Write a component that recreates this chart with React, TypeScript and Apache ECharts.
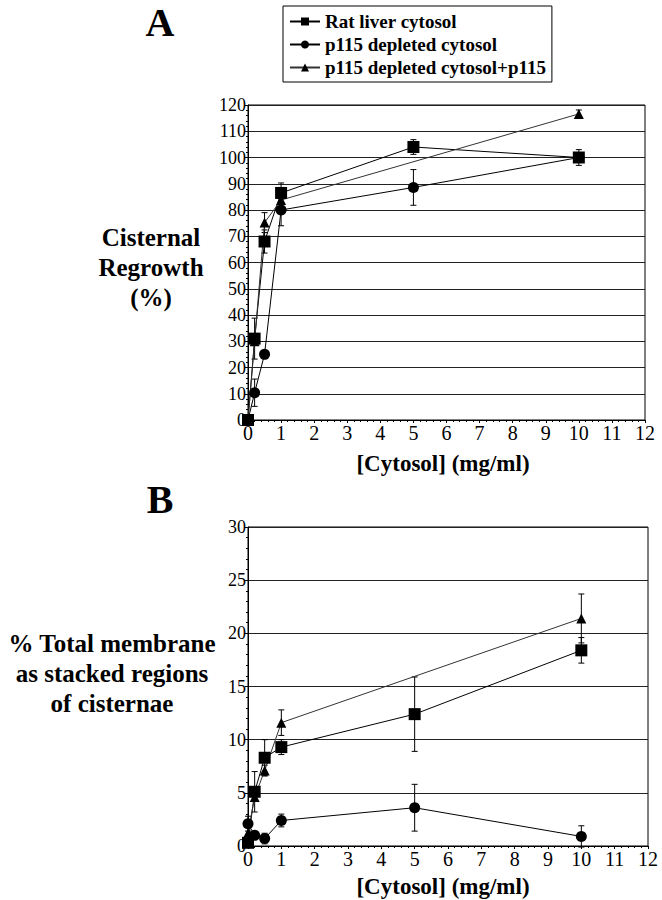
import React, { useEffect, useRef } from "react";
import * as echarts from "echarts";

// ---- Data ----
const seriesNames = ["Rat liver cytosol", "p115 depleted cytosol", "p115 depleted cytosol+p115"];
const xTicks = [0, 12];

// Panel A: Cisternal regrowth (%)
const concA = [0, 0.2, 0.5, 1, 5, 10];
const ratA = [0, 31, 68, 86.5, 104, 100];
const ratAErr = [0, 7.8, 4.4, 3.8, 2.8, 3];
const depA = [0, 10.4, 25, 80, 88.6, 100];
const depAErr = [0, 5.2, 0, 6, 6.8, 0];
const concA3 = [0, 0.2, 0.5, 1, 10];
const addA = [0, 30, 75.2, 83.8, 116.6];
const addAErr = [0, 0, 3.8, 0, 1.5];

// Panel B: % total membrane as stacked regions
const concB = [0, 0.2, 0.5, 1, 5, 10];
const ratB = [0.3, 5.1, 8.3, 9.3, 12.4, 18.4];
const ratBErr = [0, 1.9, 1.7, 0.7, 3.5, 1.2];
const depB = [2.1, 1.0, 0.7, 2.4, 3.6, 0.9];
const depBErr = [0.7, 0.3, 0.5, 0.6, 2.2, 1.0];
const concB3 = [0, 0.2, 0.5, 1, 10];
const addB = [1.2, 4.6, 7.1, 11.6, 21.4];
const addBErr = [0, 0, 0.5, 1.2, 2.3];

const SERIF = "'Liberation Serif', 'DejaVu Serif', serif";

const zip = (xs: number[], ys: number[]) => xs.map((x, i) => [x, ys[i]]);
const zip3 = (xs: number[], ys: number[], es: number[]) => xs.map((x, i) => [x, ys[i], es[i]]);

function errorBars(name: string, data: number[][], axis: number) {
  return {
    type: "custom",
    name,
    xAxisIndex: axis,
    yAxisIndex: axis,
    z: 1,
    silent: true,
    encode: { x: 0, y: 1 },
    data,
    renderItem: (params: any, api: any) => {
      const x = api.value(0);
      const y = api.value(1);
      const e = api.value(2);
      if (!e) return { type: "group", children: [] };
      const t = api.coord([x, y + e]);
      const b = api.coord([x, y - e]);
      const st = { stroke: "#000", lineWidth: 1 };
      return {
        type: "group",
        children: [
          { type: "line", shape: { x1: t[0], y1: t[1], x2: b[0], y2: b[1] }, style: st },
          { type: "line", shape: { x1: t[0] - 3, y1: t[1], x2: t[0] + 3, y2: t[1] }, style: st },
          { type: "line", shape: { x1: b[0] - 3, y1: b[1], x2: b[0] + 3, y2: b[1] }, style: st },
        ],
      };
    },
  };
}

function lineSeries(name: string, data: number[][], axis: number, symbol: string, size: number, color: string) {
  return {
    type: "line",
    name,
    xAxisIndex: axis,
    yAxisIndex: axis,
    data,
    z: 3,
    symbol,
    symbolSize: size,
    showAllSymbol: true,
    lineStyle: { color, width: 1 },
    itemStyle: { color: "#000" },
  };
}

function xAxis(gridIndex: number) {
  return {
    type: "value",
    gridIndex,
    min: xTicks[0],
    max: xTicks[1],
    interval: 1,
    axisLine: { show: true, lineStyle: { color: "#000", width: 1 } },
    axisTick: { show: true, length: 3, lineStyle: { color: "#000" } },
    minorTick: { show: true, splitNumber: 5, length: 2, lineStyle: { color: "#000" } },
    splitLine: { show: false },
    axisLabel: { color: "#000", fontFamily: SERIF, fontSize: 20, margin: 3 },
  };
}

function yAxis(gridIndex: number, max: number, interval: number) {
  return {
    type: "value",
    gridIndex,
    min: 0,
    max,
    interval,
    axisLine: { show: true, lineStyle: { color: "#000", width: 1 } },
    axisTick: { show: true, length: 3, lineStyle: { color: "#000" } },
    minorTick: { show: true, splitNumber: 5, length: 2, lineStyle: { color: "#000" } },
    splitLine: { show: true, lineStyle: { color: "#222", width: 1 } },
    axisLabel: { color: "#000", fontFamily: SERIF, fontSize: 18, margin: 2 },
  };
}

function boldText(text: string, x: number, y: number, size: number, align = "center") {
  return {
    type: "text",
    x,
    y,
    style: {
      text,
      fill: "#000",
      fontFamily: SERIF,
      fontWeight: "bold",
      fontSize: size,
      textAlign: align,
      textVerticalAlign: "middle",
      lineHeight: 30,
    },
  };
}

export default function App() {
  const ref = useRef<HTMLDivElement>(null);
  useEffect(() => {
    document.body.style.margin = "0";
    const chart = echarts.init(ref.current!, null, { renderer: "svg" });
    chart.setOption({
      animation: false,
      backgroundColor: "#fff",
      grid: [
        { left: 248, top: 105, width: 397, height: 315, show: true, borderColor: "#000", borderWidth: 1, backgroundColor: "transparent" },
        { left: 248, top: 527, width: 400, height: 319, show: true, borderColor: "#000", borderWidth: 1, backgroundColor: "transparent" },
      ],
      xAxis: [xAxis(0), xAxis(1)],
      yAxis: [yAxis(0, 120, 10), yAxis(1, 30, 5)],
      legend: {
        data: seriesNames,
        orient: "vertical",
        left: 283,
        top: 6,
        borderColor: "#000",
        borderWidth: 1,
        padding: [6, 6, 5, 6],
        itemGap: 4,
        itemWidth: 30,
        itemHeight: 10,
        textStyle: { color: "#000", fontFamily: SERIF, fontWeight: "bold", fontSize: 19 },
      },
      graphic: [
        boldText("A", 160, 22, 40),
        boldText("B", 160, 499, 40),
        boldText("Cisternal\nRegrowth\n(%)", 151, 267, 25),
        boldText("% Total membrane\nas stacked regions\nof cisternae", 112, 673, 25),
        boldText("[Cytosol] (mg/ml)", 443, 463, 23),
        boldText("[Cytosol] (mg/ml)", 443, 886, 23),
      ],
      series: [
        errorBars("errA1", zip3(concA, ratA, ratAErr), 0),
        errorBars("errA2", zip3(concA, depA, depAErr), 0),
        errorBars("errA3", zip3(concA3, addA, addAErr), 0),
        errorBars("errB1", zip3(concB, ratB, ratBErr), 1),
        errorBars("errB2", zip3(concB, depB, depBErr), 1),
        errorBars("errB3", zip3(concB3, addB, addBErr), 1),
        lineSeries(seriesNames[0], zip(concA, ratA), 0, "rect", 12, "#000"),
        lineSeries(seriesNames[1], zip(concA, depA), 0, "circle", 11, "#000"),
        lineSeries(seriesNames[2], zip(concA3, addA), 0, "triangle", 10, "#333"),
        lineSeries(seriesNames[0], zip(concB, ratB), 1, "rect", 12, "#000"),
        lineSeries(seriesNames[1], zip(concB, depB), 1, "circle", 11, "#000"),
        lineSeries(seriesNames[2], zip(concB3, addB), 1, "triangle", 10, "#333"),
      ],
    });
    return () => chart.dispose();
  }, []);
  return <div ref={ref} style={{ width: 662, height: 900 }} />;
}
